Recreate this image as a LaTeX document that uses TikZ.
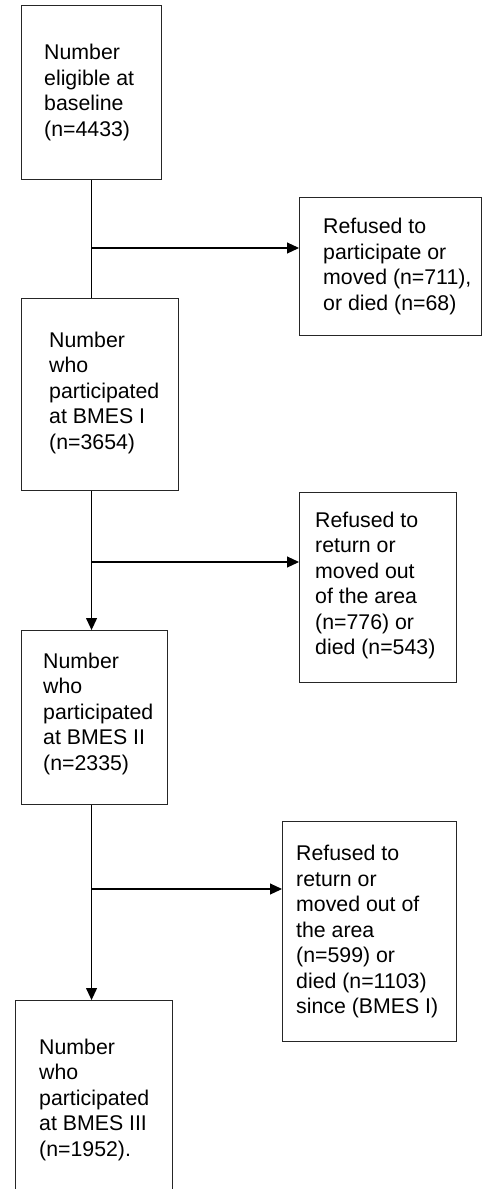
\documentclass[tikz,border=0pt]{standalone}
\usepackage{fontspec}
\setmainfont{Liberation Sans}
\usetikzlibrary{arrows.meta,calc}
\begin{document}
\begin{tikzpicture}[x=1pt,y=-1pt,
  boxnode/.style={draw=black!85,line width=1.1pt,rectangle,inner sep=0pt,anchor=north west},
  label/.style={anchor=west,align=left,inner sep=0pt,font=\fontsize{21.3}{25.5}\selectfont},
  conn/.style={draw=black,line width=1.1pt},
  arr/.style={conn,-{Triangle[length=12pt,width=11pt]}}]
\useasboundingbox (0,0) rectangle (486,1189);
\clip (0,0) rectangle (486,1189);
% main boxes
\node[boxnode,minimum width=140,minimum height=174] (b1) at (21,5) {};
\node[boxnode,minimum width=157,minimum height=192] (b2) at (21,298) {};
\node[boxnode,minimum width=146,minimum height=174] (b3) at (21,630) {};
\node[boxnode,minimum width=157,minimum height=198] (b4) at (15,1000) {};
% side boxes
\node[boxnode,minimum width=182,minimum height=138] (r1) at (299,197) {};
\node[boxnode,minimum width=157,minimum height=190] (r2) at (299,492) {};
\node[boxnode,minimum width=174,minimum height=220] (r3) at (282,821) {};
% texts
\node[label] (t1) at ($(b1.west)+(23,0)$) {Number\\eligible at\\baseline\\(n=4433)};
\node[label] (t2) at ($(b2.west)+(28,-2)$) {Number\\who\\participated\\at BMES I\\(n=3654)};
\node[label] (t3) at ($(b3.west)+(22,-4)$) {Number\\who\\participated\\at BMES II\\(n=2335)};
\node[label] (t4) at ($(b4.west)+(24,0)$) {Number\\who\\participated\\at BMES III\\(n=1952).};
\node[label] (s1) at ($(r1.west)+(24,0)$) {Refused to\\participate or\\moved (n=711),\\or died (n=68)};
\node[label] (s2) at ($(r2.west)+(16,-2)$) {Refused to\\return or\\moved out\\of the area\\(n=776) or\\died (n=543)};
\node[label] (s3) at ($(r3.west)+(14,0)$) {Refused to\\return or\\moved out of\\the area\\(n=599) or\\died (n=1103)\\since (BMES I)};
% junctions
\coordinate (j1) at (91,248);
\coordinate (j2) at (91,562);
\coordinate (j3) at (91,889);
% connectors
\draw[conn] (b1.south) -- (b1.south |- b2.north);
\draw[arr] (j1) -- (j1 -| r1.west);
\draw[arr] (b1.south |- b2.south) -- (b1.south |- b3.north);
\draw[arr] (j2) -- (j2 -| r2.west);
\draw[arr] (b1.south |- b3.south) -- (b1.south |- b4.north);
\draw[arr] (j3) -- (j3 -| r3.west);
\end{tikzpicture}
\end{document}
